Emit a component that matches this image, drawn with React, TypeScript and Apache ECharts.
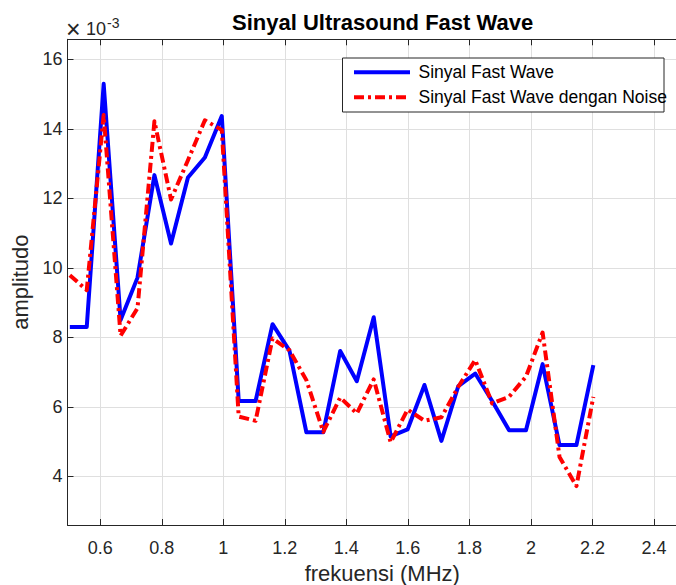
import React, { useEffect, useRef } from "react";
import * as echarts from "echarts";

// Frequency (MHz) of each sample
const frequencyMHz = [
  0.501, 0.556, 0.611, 0.666, 0.721, 0.776, 0.83, 0.885, 0.94, 0.995, 1.05, 1.105,
  1.16, 1.215, 1.27, 1.325, 1.38, 1.434, 1.489, 1.544, 1.599, 1.654, 1.709, 1.764,
  1.819, 1.874, 1.929, 1.984, 2.038, 2.093, 2.148, 2.203,
];
// Amplitudes in units of 1e-3
const fastWave = [
  8.3, 8.3, 15.3, 8.5, 9.72, 12.67, 10.7, 12.6, 13.18, 14.37, 6.17, 6.17,
  8.38, 7.62, 5.27, 5.27, 7.61, 6.74, 8.58, 5.15, 5.35, 6.63, 5.02, 6.6,
  6.96, 6.17, 5.33, 5.33, 7.23, 4.9, 4.9, 7.2,
];
const fastWaveNoise = [
  9.79, 9.36, 14.4, 8.05, 8.84, 14.22, 11.97, 13.1, 14.25, 13.97, 5.72, 5.6,
  7.97, 7.63, 6.77, 5.28, 6.27, 5.81, 6.79, 4.98, 5.92, 5.6, 5.7, 6.58,
  7.35, 6.1, 6.29, 6.87, 8.14, 4.56, 3.72, 6.29,
];
const seriesNames = ["Sinyal Fast Wave", "Sinyal Fast Wave dengan Noise"];
const titleText = "Sinyal Ultrasound Fast Wave";
const xLabel = "frekuensi (MHz)";
const yLabel = "amplitudo";

const FONT = "'Liberation Sans', Arial, Helvetica, sans-serif";
const AX = "#262626";
const BLUE = "#0000ff";
const RED = "#ff0000";
const RED_DASH = [10, 4, 3, 4];

export default function App() {
  const ref = useRef<HTMLDivElement>(null);
  useEffect(() => {
    document.body.style.margin = "0";
    if (!ref.current) return;
    const chart = echarts.init(ref.current, null, { renderer: "svg" });
    const blueData = frequencyMHz.map((f, i) => [f, fastWave[i]]);
    const redData = frequencyMHz.map((f, i) => [f, fastWaveNoise[i]]);

    const legendBox = { x: 342.5, y: 58, w: 321.5, h: 54 };
    const legendRows = [72.3, 97.3];

    const option: any = {
      animation: false,
      backgroundColor: "#ffffff",
      textStyle: { fontFamily: FONT },
      title: {
        text: titleText,
        left: 232,
        top: 11,
        padding: 0,
        textStyle: { fontFamily: FONT, fontSize: 22, fontWeight: "bold", color: "#000" },
      },
      grid: {
        left: 67.5,
        top: 39.3,
        height: 485.7,
        width: 629.5,
        containLabel: false,
        outerBoundsMode: "none",
      },
      xAxis: [
        {
          type: "value",
          min: 0.4934,
          max: 2.54,
          minInterval: 0.2,
          maxInterval: 0.2,
          name: xLabel,
          nameLocation: "middle",
          nameGap: 37,
          nameTextStyle: { fontFamily: FONT, fontSize: 22, color: AX },
          axisLine: { show: true, onZero: false, lineStyle: { color: AX, width: 1 } },
          axisTick: { show: true, inside: true, length: 6, lineStyle: { color: AX } },
          axisLabel: { fontFamily: FONT, fontSize: 18, color: AX, margin: 14, showMinLabel: false, showMaxLabel: false },
          splitLine: { show: true, lineStyle: { color: "#dfdfdf", width: 1 } },
        },
        {
          type: "value",
          position: "top",
          min: 0.4934,
          max: 2.54,
          minInterval: 0.2,
          maxInterval: 0.2,
          axisLine: { show: true, onZero: false, lineStyle: { color: AX, width: 1 } },
          axisTick: { show: true, inside: true, length: 6, lineStyle: { color: AX } },
          axisLabel: { show: false },
          splitLine: { show: false },
        },
      ],
      yAxis: {
        type: "value",
        min: 2.6,
        max: 16.58,
        minInterval: 2,
        maxInterval: 2,
        name: yLabel,
        nameLocation: "middle",
        nameGap: 35,
        nameTextStyle: { fontFamily: FONT, fontSize: 22, color: AX },
        axisLine: { show: true, onZero: false, lineStyle: { color: AX, width: 1 } },
        axisTick: { show: true, inside: true, length: 6, lineStyle: { color: AX } },
        axisLabel: { fontFamily: FONT, fontSize: 18, color: AX, margin: 5, showMinLabel: false, showMaxLabel: false },
        splitLine: { show: true, lineStyle: { color: "#dfdfdf", width: 1 } },
      },
      graphic: [
        { type: "text", x: 66, y: 29, z: 10, style: { text: "×", font: `25px ${FONT}`, fill: AX, verticalAlign: "middle", align: "left" } },
        { type: "text", x: 86, y: 29, z: 10, style: { text: "10", font: `18px ${FONT}`, fill: AX, verticalAlign: "middle", align: "left" } },
        { type: "text", x: 107, y: 23, z: 10, style: { text: "-3", font: `14px ${FONT}`, fill: AX, verticalAlign: "middle", align: "left" } },
        {
          type: "rect",
          z: 10,
          shape: { x: legendBox.x, y: legendBox.y, width: legendBox.w, height: legendBox.h },
          style: { fill: "#ffffff", stroke: AX, lineWidth: 1 },
        },
        {
          type: "line",
          z: 11,
          shape: { x1: 354, y1: legendRows[0], x2: 410, y2: legendRows[0] },
          style: { stroke: BLUE, lineWidth: 4 },
        },
        {
          type: "line",
          z: 11,
          shape: { x1: 354, y1: legendRows[1], x2: 410, y2: legendRows[1] },
          style: { stroke: RED, lineWidth: 4, lineDash: RED_DASH },
        },
        { type: "text", x: 418.5, y: legendRows[0], z: 11, style: { text: seriesNames[0], font: `17.5px ${FONT}`, fill: "#000", verticalAlign: "middle", align: "left" } },
        { type: "text", x: 418.5, y: legendRows[1], z: 11, style: { text: seriesNames[1], font: `17.5px ${FONT}`, fill: "#000", verticalAlign: "middle", align: "left" } },
      ],
      series: [
        {
          name: seriesNames[0],
          type: "line",
          data: blueData,
          showSymbol: false,
          symbol: "none",
          lineStyle: { color: BLUE, width: 4, join: "round", cap: "butt" },
          itemStyle: { color: BLUE },
          z: 2,
        },
        {
          name: seriesNames[1],
          type: "line",
          data: redData,
          showSymbol: false,
          symbol: "none",
          lineStyle: { color: RED, width: 4, type: RED_DASH, join: "round", cap: "butt" },
          itemStyle: { color: RED },
          z: 3,
        },
      ],
    };
    chart.setOption(option);
    return () => chart.dispose();
  }, []);
  return <div ref={ref} style={{ width: 676, height: 585 }} />;
}
